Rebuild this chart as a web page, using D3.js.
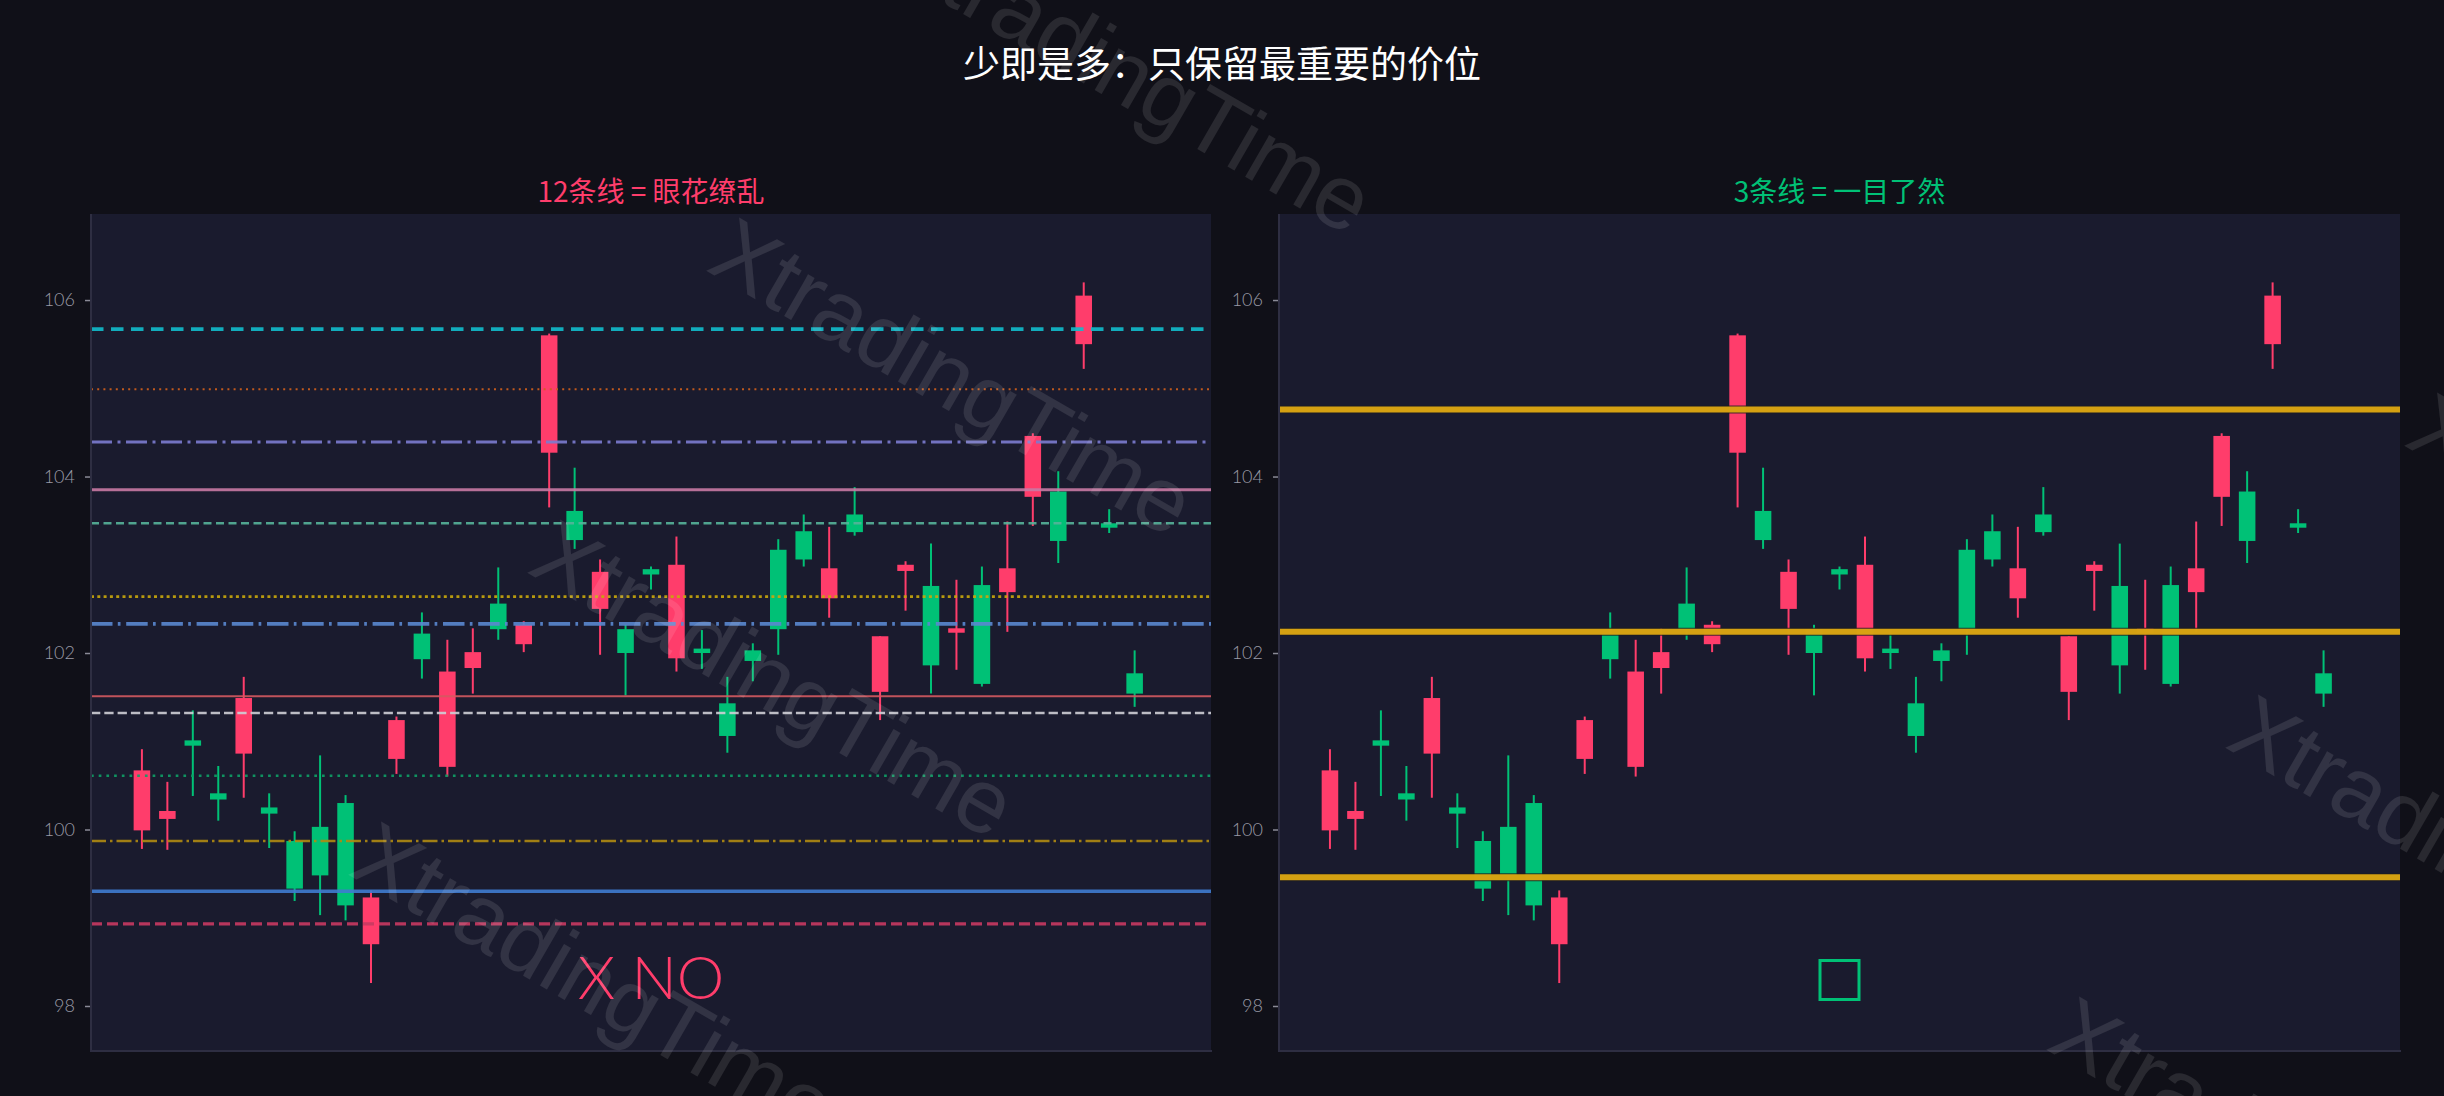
<!DOCTYPE html>
<html><head><meta charset="utf-8">
<script src="https://cdn.jsdelivr.net/npm/d3@7"></script>
<style>html,body{margin:0;padding:0;background:#101018;} svg{display:block}</style>
</head><body>
<svg id="chart" width="2444" height="1096"></svg>
<script>
// ---------- data ----------
const opens  = [99.99,100.12,101.01,100.41,100.86,100.25,99.87,100.03,100.30,98.70,
                100.80,102.22,100.71,101.83,102.56,102.10,104.27,103.61,102.50,102.27,
                102.95,101.94,102.05,101.43,102.03,103.17,103.38,102.62,103.57,101.56,
                102.93,102.76,102.23,102.77,102.69,103.77,103.83,105.50,103.47,101.77];
const closes = [100.67,100.21,100.95,100.34,101.49,100.18,99.33,99.48,99.14,99.23,
                101.24,101.93,101.79,102.01,102.27,102.32,105.60,103.28,102.92,102.00,
                102.89,103.00,102.00,101.06,101.91,102.27,103.06,102.96,103.37,102.19,
                103.00,101.86,102.28,101.65,102.96,104.46,103.27,106.05,103.42,101.54];
const highs  = [100.91,100.54,101.35,100.72,101.73,100.41,99.98,100.84,100.39,99.31,
                101.28,102.46,102.15,102.28,102.97,102.36,105.62,104.10,103.06,102.32,
                102.98,103.32,102.26,101.73,102.11,103.29,103.57,103.43,103.88,102.19,
                103.04,103.24,102.83,102.98,103.49,104.49,104.06,106.20,103.63,102.03];
const lows   = [99.78,99.77,100.38,100.10,100.36,99.79,99.19,99.03,98.97,98.26,
                100.63,101.71,100.60,101.54,102.15,102.01,103.65,103.18,101.98,101.52,
                102.72,101.79,101.82,100.87,101.68,101.98,102.98,102.40,103.33,101.24,
                102.48,101.54,101.81,101.62,102.24,103.44,103.02,105.22,103.36,101.39];
const yTicks = [98, 100, 102, 104, 106];
const manyLevels = [105.67, 104.99, 104.39, 103.85, 103.47, 102.64, 102.33,
                    101.51, 101.32, 100.61, 99.87, 99.30, 98.93];
const keyLevels = [104.76, 102.24, 99.46];
const mainTitle = "少即是多：只保留最重要的价位";
const leftTitle = "12条线 = 眼花缭乱";
const rightTitle = "3条线 = 一目了然";
const leftNote = "X NO";
const watermarkText = "XtradingTime";

// ---------- styles ----------
const UP = "#ff3d6b", DOWN = "#00c176";
const levelColors = ["#12bccc","#d2601c","#7c7cd0","#c97aa4","#56b39a","#c9a80c","#5a88d0",
                     "#d45a60","#cfcfd6","#0f9f66","#b08a12","#3f7cd0","#c83a62"];
const levelWidths = [3.6,2,3,3.2,2.4,2.8,3.6,2.2,2.4,2.6,2.4,3.6,3.2];
const levelDash = ["12.5,7.5","2,4.2","21,5.5,3,5.5",null,"8,4.5","3,3.3","21.5,5.3,2.7,5.7",
                   null,"9.3,4","2.7,5","15,4,2.5,4",null,"11,5"];
const wmCenters = [[1311,-227],[1132,75],[953,377],[774,679],[595,981],[416,1283],
                   [2651,552],[2472,854],[2293,1156]];

const W = 2444, H = 1096;
const svg = d3.select("#chart");
svg.append("rect").attr("width", W).attr("height", H).attr("fill", "#101018");

const TOP = 214, BOTTOM = 1051;
const panels = [{x0: 91, x1: 1211, title: leftTitle, color: UP, kind: "many"},
                {x0: 1279, x1: 2400, title: rightTitle, color: DOWN, kind: "key"}];
const candles = d3.range(opens.length).map(i => ({i, o: opens[i], c: closes[i], h: highs[i], l: lows[i]}));

svg.append("text").attr("x", W / 2).attr("y", 62)
  .attr("text-anchor", "middle").attr("dominant-baseline", "central")
  .attr("font-family", "'Noto Sans CJK SC', sans-serif").attr("font-size", 37)
  .attr("fill", "#ffffff").text(mainTitle);

panels.forEach(p => {
  const x = d3.scaleLinear().domain([-2, 42]).range([p.x0, p.x1]);
  const y = d3.scaleLinear().domain([97.49, 106.975]).range([BOTTOM, TOP]);
  const g = svg.append("g");
  g.append("rect").attr("x", p.x0).attr("y", TOP).attr("width", p.x1 - p.x0)
    .attr("height", BOTTOM - TOP).attr("fill", "#1a1b2e");

  svg.append("text").attr("x", (p.x0 + p.x1) / 2).attr("y", 190)
    .attr("text-anchor", "middle").attr("dominant-baseline", "central")
    .attr("font-family", "'Noto Sans CJK SC', sans-serif").attr("font-size", 28)
    .attr("fill", p.color).text(p.title);

  const bw = x(0.65) - x(0);
  const col = d => d.c >= d.o ? UP : DOWN;
  g.selectAll("line.wick").data(candles).join("line").attr("class", "wick")
    .attr("x1", d => x(d.i)).attr("x2", d => x(d.i))
    .attr("y1", d => y(d.h)).attr("y2", d => y(d.l))
    .attr("stroke", col).attr("stroke-width", 2);
  g.selectAll("rect.body").data(candles).join("rect").attr("class", "body")
    .attr("x", d => x(d.i) - bw / 2).attr("width", bw)
    .attr("y", d => y(Math.max(d.o, d.c)))
    .attr("height", d => Math.max(1.5, Math.abs(y(d.o) - y(d.c))))
    .attr("fill", col);

  if (p.kind === "many") {
    g.selectAll("line.lvl").data(manyLevels).join("line").attr("class", "lvl")
      .attr("x1", p.x0).attr("x2", p.x1)
      .attr("y1", d => y(d)).attr("y2", d => y(d))
      .attr("stroke", (d, i) => levelColors[i])
      .attr("stroke-width", (d, i) => levelWidths[i])
      .attr("stroke-dasharray", (d, i) => levelDash[i])
      .attr("opacity", 0.9);
    svg.append("text").attr("x", (p.x0 + p.x1) / 2).attr("y", 976)
      .attr("text-anchor", "middle").attr("dominant-baseline", "central")
      .attr("font-family", "Lato, 'Open Sans', sans-serif").attr("font-weight", 300)
      .attr("font-size", 60).attr("fill", UP).text(leftNote);
  } else {
    g.selectAll("line.kout").data(keyLevels).join("line").attr("class", "kout")
      .attr("x1", p.x0).attr("x2", p.x1)
      .attr("y1", d => y(d)).attr("y2", d => y(d))
      .attr("stroke", "#1c1c22").attr("stroke-width", 8).attr("opacity", 0.8);
    g.selectAll("line.key").data(keyLevels).join("line").attr("class", "key")
      .attr("x1", p.x0).attr("x2", p.x1)
      .attr("y1", d => y(d)).attr("y2", d => y(d))
      .attr("stroke", "#e0a912").attr("stroke-width", 6).attr("opacity", 0.95);
    g.append("rect").attr("x", (p.x0 + p.x1) / 2 - 19.5).attr("y", 980 - 19.5)
      .attr("width", 39).attr("height", 39).attr("fill", "none")
      .attr("stroke", DOWN).attr("stroke-width", 3);
  }

  const ax = d3.axisLeft(y).tickValues(yTicks).tickFormat(d3.format("d")).tickSize(6).tickPadding(10);
  const axg = svg.append("g").attr("transform", `translate(${p.x0},0)`).call(ax);
  axg.select(".domain").remove();
  axg.selectAll(".tick line").attr("stroke", "#8a8a96").attr("stroke-width", 1.5);
  axg.selectAll(".tick text").attr("fill", "#9a9aa6").attr("font-size", 18)
    .attr("font-family", "Lato, 'Open Sans', sans-serif").attr("font-weight", 300);
  svg.append("line").attr("x1", p.x0).attr("x2", p.x0).attr("y1", TOP).attr("y2", BOTTOM + 1)
    .attr("stroke", "#2e2e42").attr("stroke-width", 2);
  svg.append("line").attr("x1", p.x0 - 1).attr("x2", p.x1 + 1).attr("y1", BOTTOM).attr("y2", BOTTOM)
    .attr("stroke", "#2e2e42").attr("stroke-width", 2);
});

svg.append("g").selectAll("text").data(wmCenters).join("text")
  .attr("transform", d => `translate(${d[0]},${d[1]}) rotate(30)`)
  .attr("text-anchor", "middle").attr("dominant-baseline", "central")
  .attr("font-family", "'Liberation Sans', Arial, sans-serif").attr("font-size", 91)
  .attr("fill", "#ffffff").attr("opacity", 0.1).text(watermarkText);
</script>
</body></html>
